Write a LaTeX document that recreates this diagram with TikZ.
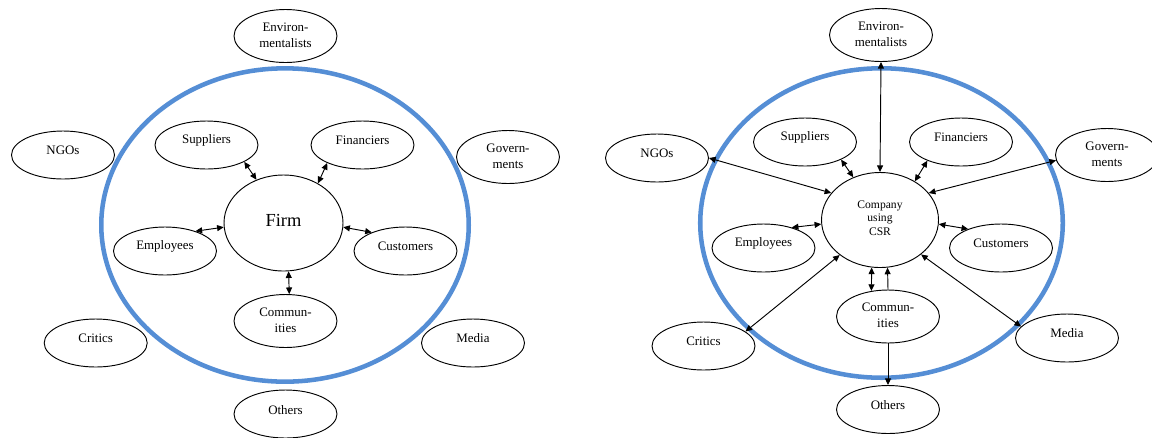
\documentclass[tikz,border=0pt]{standalone}
\usepackage{fontspec}
\setmainfont{Liberation Serif}
\usetikzlibrary{shapes.geometric,arrows.meta,calc}
\definecolor{ringblue}{HTML}{558ED5}
\begin{document}
\begin{tikzpicture}[x=0.75pt,y=-0.75pt,
  ell/.style={ellipse,draw,line width=0.7pt,minimum width=77.25pt,minimum height=36pt,inner sep=0pt},
  ellt/.style={ell,minimum height=39.75pt},
  hub/.style={ellipse,draw,line width=0.7pt,inner sep=0pt},
  ring/.style={ellipse,draw=ringblue,line width=3.4pt,inner sep=0pt},
  lbl/.style={font=\fontsize{9.7}{12}\selectfont,align=center,inner sep=0pt},
  tip/.tip={Triangle[length=5pt,width=4.5pt]},
  link/.style={line width=0.7pt,tip-tip},
  flow/.style={line width=0.7pt,-tip}]
\useasboundingbox (0,0) rectangle (1152,437);

% ---------- left diagram ----------
\node[ring,minimum width=275.6pt,minimum height=235pt] (ringL) at (285,225) {};
\node[ellt] (envL) at (285.5,36) {};
\node[ell] (ngoL) at (63,155) {};
\node[ell] (supL) at (206.5,145) {};
\node[ell] (finL) at (362.5,145) {};
\node[ellt] (govL) at (508,157) {};
\node[hub,minimum width=89.25pt,minimum height=72pt] (firmL) at (283.5,223) {};
\node[ell] (empL) at (165,251) {};
\node[ell] (cusL) at (405.5,251) {};
\node[ellt] (comL) at (285.5,321) {};
\node[ell] (criL) at (95.7,343) {};
\node[ell] (medL) at (473,343) {};
\node[ell] (othL) at (285.5,414) {};

\node[lbl] (envLt) at ($(envL)+(0,-1)$) {Environ-\\mentalists};
\node[lbl] (ngoLt) at ($(ngoL)+(0,-5)$) {NGOs};
\node[lbl] (supLt) at ($(supL)+(0,-5)$) {Suppliers};
\node[lbl] (finLt) at ($(finL)+(0,-5)$) {Financiers};
\node[lbl] (govLt) at ($(govL)+(0,-1)$) {Govern-\\ments};
\node[lbl,font=\fontsize{13.8}{16}\selectfont] (firmLt) at ($(firmL)+(0,-3)$) {Firm};
\node[lbl] (empLt) at ($(empL)+(0,-5)$) {Employees};
\node[lbl] (cusLt) at ($(cusL)+(0,-5)$) {Customers};
\node[lbl] (comLt) at ($(comL)+(0,-1)$) {Commun-\\ities};
\node[lbl] (criLt) at ($(criL)+(0,-5)$) {Critics};
\node[lbl] (medLt) at ($(medL)+(0,-5)$) {Media};
\node[lbl] (othLt) at ($(othL)+(0,-4)$) {Others};

\draw[link] (supL.-24) -- (firmL.122);
\draw[link] (finL.-153) -- (firmL.49);
\draw[link] (empL.33) -- (firmL.-176);
\draw[link] (cusL.151) -- (firmL.-4);
\draw[link] (comL.82) -- (firmL.-84);

% ---------- right diagram ----------
\node[ring,minimum width=271.9pt,minimum height=232.1pt] (ringR) at (881.5,223) {};
\node[ellt] (envR) at (881,35) {};
\node[ell] (ngoR) at (657,158) {};
\node[ell] (supR) at (805,142) {};
\node[ell] (finR) at (961,142) {};
\node[ellt] (govR) at (1107,155) {};
\node[hub,minimum width=87.75pt,minimum height=71.25pt] (compR) at (880,220) {};
\node[ell] (empR) at (763.5,248) {};
\node[ell] (cusR) at (1001,248) {};
\node[ellt] (comR) at (888,316.5) {};
\node[ell] (criR) at (703.5,346) {};
\node[ell] (medR) at (1067,338) {};
\node[ell] (othR) at (888,409.5) {};

\node[lbl] (envRt) at ($(envR)+(0,-1)$) {Environ-\\mentalists};
\node[lbl] (ngoRt) at ($(ngoR)+(0,-5)$) {NGOs};
\node[lbl] (supRt) at ($(supR)+(0,-5)$) {Suppliers};
\node[lbl] (finRt) at ($(finR)+(0,-5)$) {Financiers};
\node[lbl] (govRt) at ($(govR)+(0,-1)$) {Govern-\\ments};
\node[lbl,font=\fontsize{8.7}{10}\selectfont] (compRt) at ($(compR)+(0,-2)$) {Company\\using\\CSR};
\node[lbl] (empRt) at ($(empR)+(0,-5)$) {Employees};
\node[lbl] (cusRt) at ($(cusR)+(0,-5)$) {Customers};
\node[lbl] (comRt) at ($(comR)+(0,-1)$) {Commun-\\ities};
\node[lbl] (criRt) at ($(criR)+(0,-5)$) {Critics};
\node[lbl] (medRt) at ($(medR)+(0,-5)$) {Media};
\node[lbl] (othRt) at ($(othR)+(0,-4)$) {Others};

\draw[link] (envR.south) -- (compR.north);
\draw[link] (ngoR.east) -- (compR.151);
\draw[link] (govR.-174) -- (compR.29);
\draw[link] (supR.-26) -- (compR.122);
\draw[link] (finR.-151) -- (compR.48);
\draw[link] (empR.36) -- (compR.-176);
\draw[link] (cusR.150) -- (compR.-4);
\draw[link] (criR.19) -- (compR.-139.5);
\draw[link] (medR.166) -- (compR.-40);
\draw[link] (comR.123) -- (compR.-100);
\draw[flow] (comR.north) -- (compR.-81);
\draw[flow] (comR.south) -- (othR.north);
\end{tikzpicture}
\end{document}
